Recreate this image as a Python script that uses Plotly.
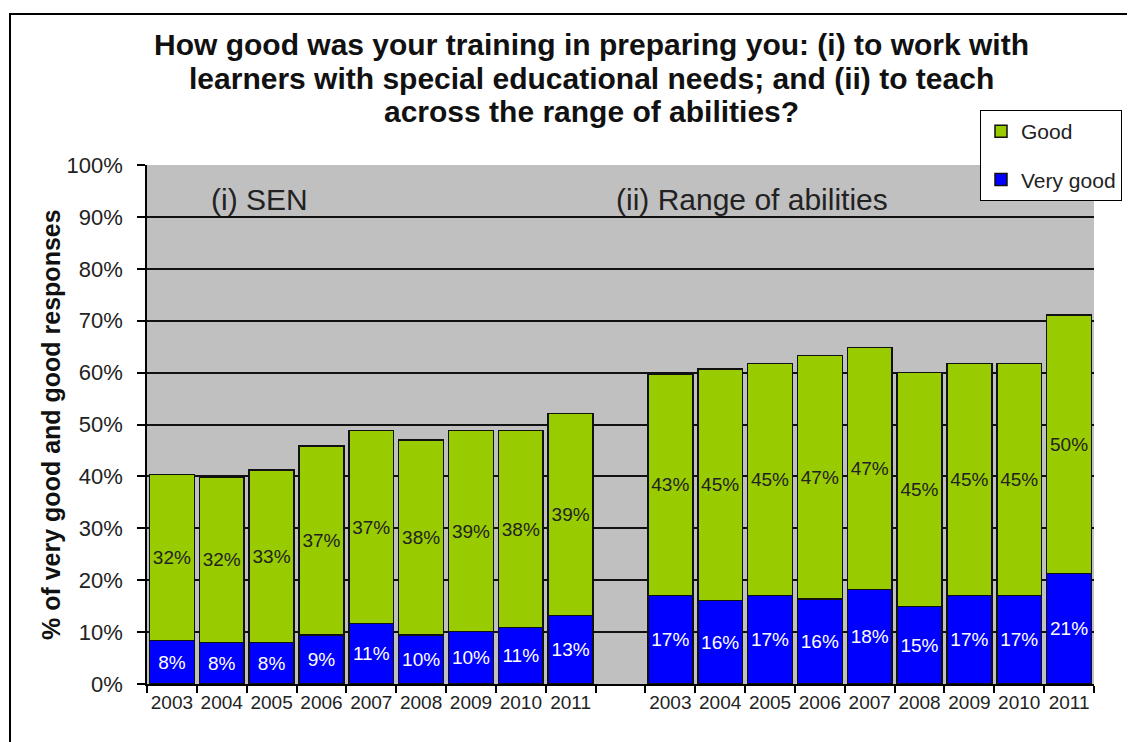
import plotly.graph_objects as go

years = ["2003", "2004", "2005", "2006", "2007", "2008", "2009", "2010", "2011"]

# (i) SEN
sen_very_good = [8.35, 8.0, 8.0, 9.45, 11.7, 9.45, 10.1, 10.9, 13.2]
sen_good = [32.05, 31.9, 33.2, 36.45, 37.1, 37.55, 38.7, 37.9, 38.9]
sen_very_good_labels = ["8%", "8%", "8%", "9%", "11%", "10%", "10%", "11%", "13%"]
sen_good_labels = ["32%", "32%", "33%", "37%", "37%", "38%", "39%", "38%", "39%"]

# (ii) Range of abilities
rng_very_good = [17.1, 16.05, 17.1, 16.4, 18.2, 14.9, 17.1, 17.1, 21.3]
rng_good = [42.6, 44.65, 44.7, 46.9, 46.6, 45.1, 44.7, 44.7, 49.8]
rng_very_good_labels = ["17%", "16%", "17%", "16%", "18%", "15%", "17%", "17%", "21%"]
rng_good_labels = ["43%", "45%", "45%", "47%", "47%", "45%", "45%", "45%", "50%"]

title_lines = ["How good was your training in preparing you: (i) to work with",
               "learners with special educational needs; and (ii) to teach",
               "across the range of abilities?"]
group_titles = ["(i) SEN", "(ii) Range of abilities"]
y_title = "% of very good and good responses"

# positions: SEN group, one empty slot, Range group
n = len(years)
x_sen = list(range(n))
x_rng = [n + 1 + i for i in range(n)]
x_all = x_sen + x_rng

very_good = sen_very_good + rng_very_good
good = sen_good + rng_good
vg_labels = sen_very_good_labels + rng_very_good_labels
g_labels = sen_good_labels + rng_good_labels

FONT = "Liberation Sans, Arial, sans-serif"
BLUE = "#0000FF"
GREEN = "#99CC00"
TXT = "#222222"

fig = go.Figure()
fig.add_trace(go.Bar(
    x=x_all, y=very_good, name="Very good", legendgroup="vg", legendrank=2,
    marker=dict(color=BLUE, line=dict(color="#111111", width=1.5)),
    width=0.9, text=vg_labels, textposition="inside", insidetextanchor="middle",
    textangle=0, textfont=dict(color="white", size=19, family=FONT),
    hoverinfo="skip",
))
fig.add_trace(go.Bar(
    x=x_all, y=good, name="Good", legendgroup="g", legendrank=1,
    marker=dict(color=GREEN, line=dict(color="#111111", width=1.5)),
    width=0.9, text=g_labels, textposition="inside", insidetextanchor="middle",
    textangle=0, textfont=dict(color=TXT, size=19, family=FONT),
    hoverinfo="skip",
))

OFF = 8  # page offset of the figure in the browser
W, H = 1135, 742
PL, PR, PT, PB = 147, 1094, 165, 684  # plot area in screen pixels
L = PL - OFF
T = PT - OFF
R = W - (PR - OFF)
B = H - (PB - OFF)
pw, ph = PR - PL, PB - PT

def px_x(p):
    return (p - PL) / pw

def px_y(p):
    return (PB - p) / ph

fig.update_layout(
    width=W, height=H,
    margin=dict(l=L, r=R, t=T, b=B, autoexpand=False),
    barmode="stack",
    paper_bgcolor="white",
    plot_bgcolor="#C0C0C0",
    font=dict(family=FONT, color=TXT),
    uniformtext=dict(minsize=19, mode="show"),
    legend=dict(
        x=px_x(980), y=px_y(110), xanchor="left", yanchor="top",
        bgcolor="white", bordercolor="black", borderwidth=1,
        font=dict(family=FONT, size=21, color=TXT),
        traceorder="grouped", tracegroupgap=18,
        itemwidth=30,
    ),
    xaxis=dict(
        range=[-0.5, 2 * n + 0.5],
        tickmode="array", tickvals=x_all, ticktext=years + years,
        ticks="", showgrid=False,
        showline=True, linecolor="black", linewidth=1.5,
        tickfont=dict(family=FONT, size=19, color=TXT),
        minor=dict(tickmode="linear", tick0=-0.5, dtick=1, ticks="outside",
                   ticklen=7, tickcolor="black", tickwidth=1.5, showgrid=False),
        zeroline=False,
    ),
    yaxis=dict(
        range=[0, 100], dtick=10, ticksuffix="%",
        showgrid=True, gridcolor="#111111", gridwidth=1.5,
        showline=True, linecolor="black", linewidth=1.5,
        ticks="outside", ticklen=8, tickcolor="black", tickwidth=1.5,
        tickfont=dict(family=FONT, size=22, color=TXT),
        ticklabelstandoff=10,
        zeroline=False,
    ),
    showlegend=True,
)

# title, one annotation per line
for line, yc in zip(title_lines, [45, 78, 112]):
    fig.add_annotation(text="<b>" + line + "</b>", xref="paper", yref="paper",
                       x=px_x(591), y=px_y(yc), xanchor="center", yanchor="middle",
                       showarrow=False, font=dict(family=FONT, size=30, color="#111111"))

# y-axis title
fig.add_annotation(text="<b>" + y_title + "</b>", xref="paper", yref="paper",
                   x=px_x(51), y=px_y(425), xanchor="center", yanchor="middle",
                   textangle=-90, showarrow=False,
                   font=dict(family=FONT, size=25, color="#111111"))

# group titles
fig.add_annotation(text=group_titles[0], xref="paper", yref="paper",
                   x=px_x(209), y=px_y(200), xanchor="left", yanchor="middle",
                   showarrow=False, font=dict(family=FONT, size=30, color=TXT))
fig.add_annotation(text=group_titles[1], xref="paper", yref="paper",
                   x=px_x(614), y=px_y(200), xanchor="left", yanchor="middle",
                   showarrow=False, font=dict(family=FONT, size=30, color=TXT))

# outer chart border
fig.add_shape(type="rect", xref="paper", yref="paper",
              x0=px_x(10), x1=px_x(1150), y0=px_y(760), y1=px_y(14),
              line=dict(color="black", width=2), fillcolor="rgba(0,0,0,0)", layer="below")

fig.write_html("out.html")
